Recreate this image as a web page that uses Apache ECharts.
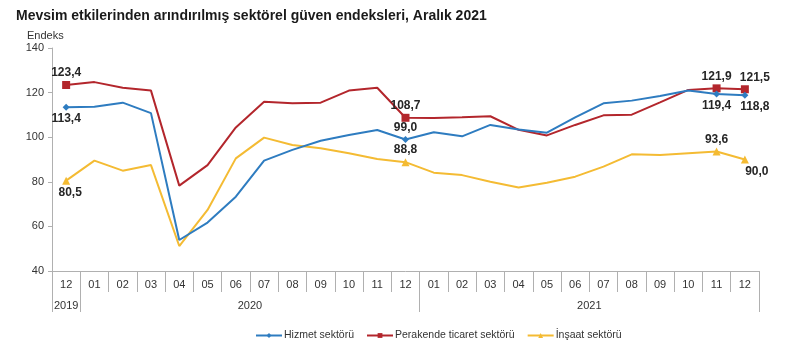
<!DOCTYPE html>
<html>
<head>
<meta charset="utf-8">
<script src="https://cdn.jsdelivr.net/npm/echarts@6/dist/echarts.min.js"></script>
<style>html,body{margin:0;padding:0;background:#fff}#c{width:800px;height:352px}</style>
</head>
<body>
<div id="c"></div>
<script>
const months = ['12','01','02','03','04','05','06','07','08','09','10','11','12','01','02','03','04','05','06','07','08','09','10','11','12'];
const years = ['2019','2020','2021'];
const seriesNames = ['Hizmet sektörü','Perakende ticaret sektörü','İnşaat sektörü'];
const hizmet = [113.4, 113.7, 115.5, 110.8, 53.9, 61.7, 73.3, 89.5, 94.3, 98.4, 101.0, 103.2, 99.0, 102.2, 100.4, 105.5, 103.5, 102.0, 108.9, 115.2, 116.4, 118.5, 120.9, 119.4, 118.8];
const perakende = [123.4, 124.7, 122.2, 120.9, 78.3, 87.5, 104.4, 115.9, 115.2, 115.5, 120.9, 122.2, 108.7, 108.6, 108.9, 109.4, 103.3, 100.8, 105.5, 109.8, 110.1, 115.6, 121.2, 121.9, 121.5];
const insaat = [80.5, 89.5, 85.0, 87.5, 51.2, 67.4, 90.5, 99.8, 96.5, 95.0, 92.8, 90.2, 88.8, 84.1, 83.0, 80.0, 77.4, 79.6, 82.3, 86.8, 92.3, 92.0, 92.8, 93.6, 90.0];
const labeledIdx = [0, 12, 23, 24];

// year label positions: center of each year's month span
const yearSpans = [[0,0],[1,12],[13,24]];
const yearPos = yearSpans.map(s => (s[0] + s[1]) / 2);
const yearBounds = [-0.5].concat(yearSpans.map(s => s[1] + 0.5));

function fmt(v){ return v.toFixed(1).replace('.', ','); }

function build(values, labelCfg){
  return values.map((v, i) => {
    const k = labeledIdx.indexOf(i);
    if (k < 0) return { value: v, symbol: 'none', label: { show: false } };
    const c = labelCfg[k];
    return { value: v, label: { show: true, position: c[0], offset: c[1] || [0,0], distance: 2, formatter: fmt(v) } };
  });
}

const labelText = { fontFamily: 'Liberation Sans, Arial, sans-serif', fontSize: 12, fontWeight: 'bold', color: '#262626' };

const chart = echarts.init(document.getElementById('c'), null, { renderer: 'canvas' });
chart.setOption({
  animation: false,
  backgroundColor: '#fff',
  textStyle: { fontFamily: 'Liberation Sans, Arial, sans-serif' },
  title: [
    { text: 'Mevsim etkilerinden arındırılmış sektörel güven endeksleri, Aralık 2021', left: 11, top: 4,
      textStyle: { fontFamily: 'Liberation Sans, Arial, sans-serif', fontSize: 14, fontWeight: 'bold', color: '#1a1a1a' } },
    { text: 'Endeks', left: 22, top: 25,
      textStyle: { fontFamily: 'Liberation Sans, Arial, sans-serif', fontSize: 11, fontWeight: 'normal', color: '#333' } }
  ],
  grid: { left: 52, right: 41, top: 48, bottom: 81 },
  legend: {
    left: 250, top: 325, itemWidth: 26, itemHeight: 6, itemGap: 12,
    textStyle: { fontSize: 10.5, color: '#333', padding: [0,0,0,-3] },
    data: seriesNames
  },
  xAxis: [
    { type: 'category', data: months, boundaryGap: true, position: 'bottom',
      axisLine: { lineStyle: { color: '#b0b0b0', width: 1 } },
      axisTick: { show: true, interval: 0, length: 21, lineStyle: { color: '#b0b0b0' } },
      axisLabel: { interval: 0, margin: 8, fontSize: 11, color: '#333' },
      splitLine: { show: false } },
    { type: 'value', min: -0.5, max: 24.5, position: 'bottom',
      axisLine: { show: false, onZero: false },
      axisTick: { show: true, customValues: yearBounds, length: 41, lineStyle: { color: '#b0b0b0' } },
      axisLabel: { customValues: yearPos, margin: 29, fontSize: 11, color: '#333',
        formatter: function(v){ const k = yearPos.indexOf(v); return k >= 0 ? years[k] : ''; } },
      splitLine: { show: false } }
  ],
  yAxis: {
    type: 'value', min: 40, max: 140, interval: 20,
    axisLine: { show: true, onZero: false, lineStyle: { color: '#b0b0b0' } },
    axisTick: { show: true, length: 4, lineStyle: { color: '#b0b0b0' } },
    axisLabel: { fontSize: 11, color: '#333', margin: 8 },
    splitLine: { show: false }
  },
  series: [
    { name: seriesNames[0], type: 'line', xAxisIndex: 0, symbol: 'diamond', symbolSize: 7, showSymbol: true,
      lineStyle: { width: 2, color: '#2e7cc0' }, itemStyle: { color: '#2e7cc0' },
      label: labelText, z: 3,
      data: build(hizmet, [['bottom'], ['top'], ['bottom'], ['bottom', [10, 0]]]) },
    { name: seriesNames[1], type: 'line', xAxisIndex: 0, symbol: 'rect', symbolSize: 8, showSymbol: true,
      lineStyle: { width: 2, color: '#b3262c' }, itemStyle: { color: '#b3262c' },
      label: labelText, z: 2,
      data: build(perakende, [['top'], ['top'], ['top'], ['top', [10, 0]]]) },
    { name: seriesNames[2], type: 'line', xAxisIndex: 0, symbol: 'triangle', symbolSize: 8, showSymbol: true,
      lineStyle: { width: 2, color: '#f4bb33' }, itemStyle: { color: '#f4bb33' },
      label: labelText, z: 1,
      data: build(insaat, [['bottom', [4, 0]], ['top'], ['top'], ['bottom', [12, 0]]]) }
  ]
});
</script>
</body>
</html>
